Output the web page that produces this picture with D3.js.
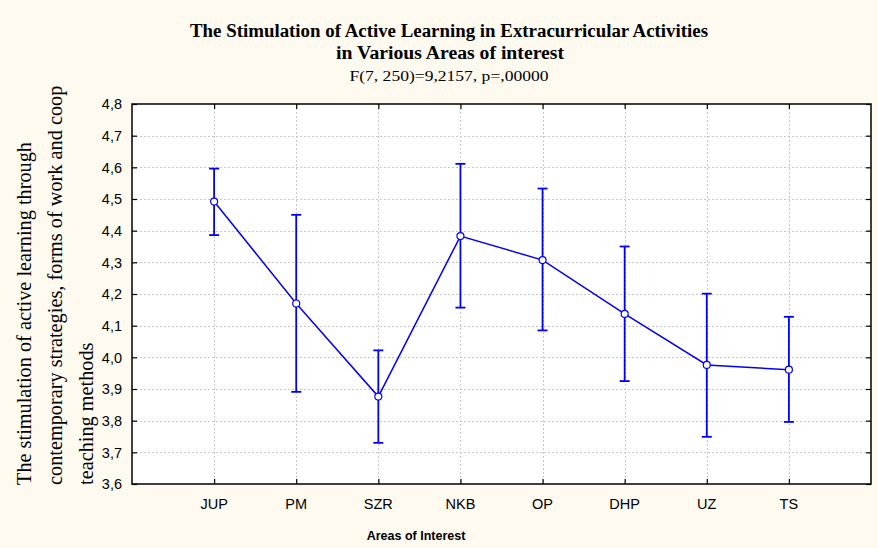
<!DOCTYPE html>
<html>
<head>
<meta charset="utf-8">
<script src="https://cdn.jsdelivr.net/npm/d3@7"></script>
<style>
  body { margin: 0; background: #fefaf0; }
  svg { display: block; }
</style>
</head>
<body>
<svg width="878" height="548"></svg>
<script>
const categories = ['JUP', 'PM', 'SZR', 'NKB', 'OP', 'DHP', 'UZ', 'TS'];
const means = [4.492, 4.170, 3.876, 4.383, 4.307, 4.137, 3.976, 3.961];
const upper = [4.596, 4.450, 4.022, 4.611, 4.533, 4.350, 4.201, 4.128];
const lower = [4.386, 3.891, 3.730, 4.157, 4.085, 3.925, 3.749, 3.796];
const yTicks = d3.range(3.6, 4.801, 0.1);

const svg = d3.select('svg');
const width = +svg.attr('width');
const height = +svg.attr('height');

svg.append('rect')
  .attr('width', width)
  .attr('height', height)
  .attr('fill', '#fefaf0');

const plotL = 132, plotR = 871, plotT = 104, plotB = 484;

const x = d3.scaleLinear().domain([0, categories.length + 1]).range([plotL, plotR]);
const y = d3.scaleLinear().domain([3.6, 4.8]).range([plotB, plotT]);

const data = categories.map((c, i) => ({ c, i: i + 1, m: means[i], hi: upper[i], lo: lower[i] }));

// plot area
svg.append('rect')
  .attr('x', plotL).attr('y', plotT)
  .attr('width', plotR - plotL).attr('height', plotB - plotT)
  .attr('fill', '#fff');

// grid
const grid = svg.append('g')
  .attr('stroke', '#c8c8c8')
  .attr('stroke-width', 1)
  .attr('stroke-dasharray', '2,2');

grid.selectAll('line.h')
  .data(yTicks.slice(1, -1))
  .enter().append('line')
    .attr('x1', plotL).attr('x2', plotR)
    .attr('y1', d => Math.round(y(d)) + 0.5)
    .attr('y2', d => Math.round(y(d)) + 0.5);

grid.selectAll('line.v')
  .data(data)
  .enter().append('line')
    .attr('y1', plotT).attr('y2', plotB)
    .attr('x1', d => Math.round(x(d.i)) + 0.5)
    .attr('x2', d => Math.round(x(d.i)) + 0.5);

// axes with inside ticks
const fmt = d => d3.format('.1f')(d).replace('.', ',');

const yAxisL = svg.append('g')
  .attr('transform', `translate(${plotL},0)`)
  .call(d3.axisRight(y).tickValues(yTicks).tickSize(5).tickFormat(''));
const yAxisR = svg.append('g')
  .attr('transform', `translate(${plotR},0)`)
  .call(d3.axisLeft(y).tickValues(yTicks).tickSize(5).tickFormat(''));
const xAxisB = svg.append('g')
  .attr('transform', `translate(0,${plotB})`)
  .call(d3.axisTop(x).tickValues(data.map(d => d.i)).tickSize(5).tickFormat(''));
const xAxisT = svg.append('g')
  .attr('transform', `translate(0,${plotT})`)
  .call(d3.axisBottom(x).tickValues(data.map(d => d.i)).tickSize(5).tickFormat(''));

[yAxisL, yAxisR, xAxisB, xAxisT].forEach(a => {
  a.select('.domain').remove();
  a.selectAll('line').attr('stroke', '#000').attr('stroke-width', 1.2);
});

svg.append('rect')
  .attr('x', plotL).attr('y', plotT)
  .attr('width', plotR - plotL).attr('height', plotB - plotT)
  .attr('fill', 'none')
  .attr('stroke', '#000')
  .attr('stroke-width', 1.5);

// tick labels
svg.append('g')
  .selectAll('text')
  .data(yTicks)
  .enter().append('text')
    .attr('x', plotL - 10)
    .attr('y', d => y(d))
    .attr('dy', '0.36em')
    .attr('text-anchor', 'end')
    .attr('font-family', 'Liberation Sans, Arial, sans-serif')
    .attr('font-size', 14.5)
    .text(fmt);

svg.append('g')
  .selectAll('text')
  .data(data)
  .enter().append('text')
    .attr('x', d => x(d.i))
    .attr('y', 509)
    .attr('text-anchor', 'middle')
    .attr('font-family', 'Liberation Sans, Arial, sans-serif')
    .attr('font-size', 14.5)
    .text(d => d.c);

svg.append('text')
  .attr('x', 416)
  .attr('y', 540)
  .attr('text-anchor', 'middle')
  .attr('font-family', 'Liberation Sans, Arial, sans-serif')
  .attr('font-weight', 'bold')
  .attr('font-size', 12.5)
  .text('Areas of Interest');

// titles
const serif = 'Liberation Serif, Times New Roman, serif';
svg.append('text')
  .attr('x', 449).attr('y', 37)
  .attr('text-anchor', 'middle')
  .attr('font-family', serif)
  .attr('font-weight', 'bold')
  .attr('font-size', 18)
  .attr('textLength', 518)
  .attr('lengthAdjust', 'spacingAndGlyphs')
  .text('The Stimulation of Active Learning in Extracurricular Activities');
svg.append('text')
  .attr('x', 450).attr('y', 59)
  .attr('text-anchor', 'middle')
  .attr('font-family', serif)
  .attr('font-weight', 'bold')
  .attr('font-size', 18)
  .attr('textLength', 228)
  .attr('lengthAdjust', 'spacingAndGlyphs')
  .text('in Various Areas of interest');
svg.append('text')
  .attr('x', 449).attr('y', 81)
  .attr('text-anchor', 'middle')
  .attr('font-family', serif)
  .attr('font-size', 15.5)
  .attr('textLength', 199)
  .attr('lengthAdjust', 'spacingAndGlyphs')
  .text('F(7, 250)=9,2157, p=,00000');

// y label (clipped like the original)
svg.append('clipPath').attr('id', 'ylab-clip')
  .append('rect').attr('x', 0).attr('y', 86).attr('width', 110).attr('height', 420);

const yLabLines = [
  'The stimulation of active learning through',
  'contemporary strategies, forms of work and cooperation',
  'teaching methods'
];
const yLab = svg.append('g')
  .attr('clip-path', 'url(#ylab-clip)')
  .selectAll('text')
  .data(yLabLines)
  .enter().append('text')
    .attr('transform', (d, i) => `translate(${31 + i * 31},485) rotate(-90)`)
    .attr('font-family', serif)
    .attr('font-size', 21)
    .text(d => d);

// squeeze the label like the original's narrow serif
const natural = yLab.nodes().map(n => n.getComputedTextLength());
const k = 343 / natural[0];
yLab.attr('textLength', (d, i) => natural[i] * k)
  .attr('lengthAdjust', 'spacingAndGlyphs');

// error bars
const bars = svg.append('g')
  .attr('stroke', '#0000ff')
  .attr('stroke-width', 1.8);

bars.selectAll('line.bar')
  .data(data)
  .enter().append('line')
    .attr('x1', d => x(d.i)).attr('x2', d => x(d.i))
    .attr('y1', d => y(d.hi)).attr('y2', d => y(d.lo));

['hi', 'lo'].forEach(k => {
  bars.selectAll(`line.cap-${k}`)
    .data(data)
    .enter().append('line')
      .attr('x1', d => x(d.i) - 5).attr('x2', d => x(d.i) + 5)
      .attr('y1', d => y(d[k])).attr('y2', d => y(d[k]));
});

// mean line
svg.append('path')
  .datum(data)
  .attr('fill', 'none')
  .attr('stroke', '#0000ff')
  .attr('stroke-width', 1.5)
  .attr('d', d3.line().x(d => x(d.i)).y(d => y(d.m)));

svg.append('g')
  .selectAll('circle')
  .data(data)
  .enter().append('circle')
    .attr('cx', d => x(d.i))
    .attr('cy', d => y(d.m))
    .attr('r', 3.5)
    .attr('fill', '#fff')
    .attr('stroke', '#0000ff')
    .attr('stroke-width', 1.2);
</script>
</body>
</html>
